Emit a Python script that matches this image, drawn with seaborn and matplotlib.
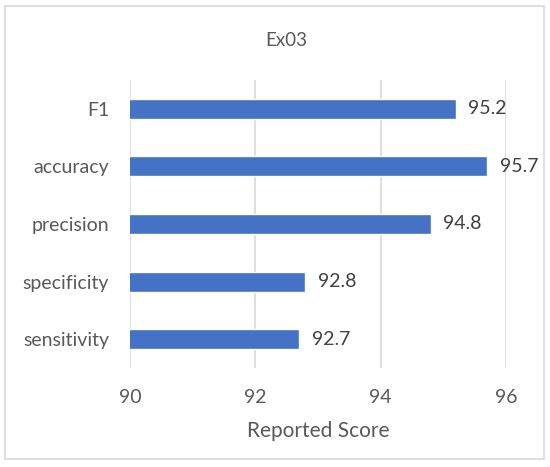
import matplotlib
matplotlib.use("Agg")
import matplotlib.pyplot as plt
import seaborn as sns
import pandas as pd
from matplotlib.patches import Rectangle

metrics = ["F1", "accuracy", "precision", "specificity", "sensitivity"]
scores = [95.2, 95.7, 94.8, 92.8, 92.7]
xticks = [90, 92, 94, 96]

sns.set_theme(style="white")
plt.rcParams["font.family"] = ["Lato", "DejaVu Sans"]

df = pd.DataFrame({"metric": metrics, "score": scores})

fig = plt.figure(figsize=(5.5, 4.67), dpi=100)
ax = fig.add_axes([0.2364, 0.212, 0.6836, 0.6167])

sns.barplot(data=df, x="score", y="metric", orient="h", color="#4472C4",
            width=0.345, saturation=1, ax=ax)
ax.set_xlim(90, 96)
ax.set_ylim(4.5, -0.5)
ax.set_xticks(xticks)
ax.set_xticklabels([str(t) for t in xticks])
ax.xaxis.grid(True, color="#d9d9d9", linewidth=1.2)
ax.set_axisbelow(True)
for s in ax.spines.values():
    s.set_visible(False)
ax.tick_params(axis="both", length=0, labelsize=14, colors="#595959")
ax.tick_params(axis="x", pad=15)
ax.tick_params(axis="y", pad=15)
ax.set_ylabel("")
ax.set_xlabel("Reported Score", fontsize=15, color="#595959", labelpad=11)

for c in ax.containers:
    ax.bar_label(c, labels=[f"{v:.1f}" for v in scores], padding=9,
                 fontsize=14, color="#404040")

fig.text(0.52, 0.914, "Ex03", ha="center", va="center", fontsize=13.5, color="#595959")

fig.patches.append(Rectangle((0.009, 0.017), 0.98, 0.97, transform=fig.transFigure,
                             fill=False, edgecolor="#d9d9d9", linewidth=1.2))

fig.savefig("out.png", dpi=100)
